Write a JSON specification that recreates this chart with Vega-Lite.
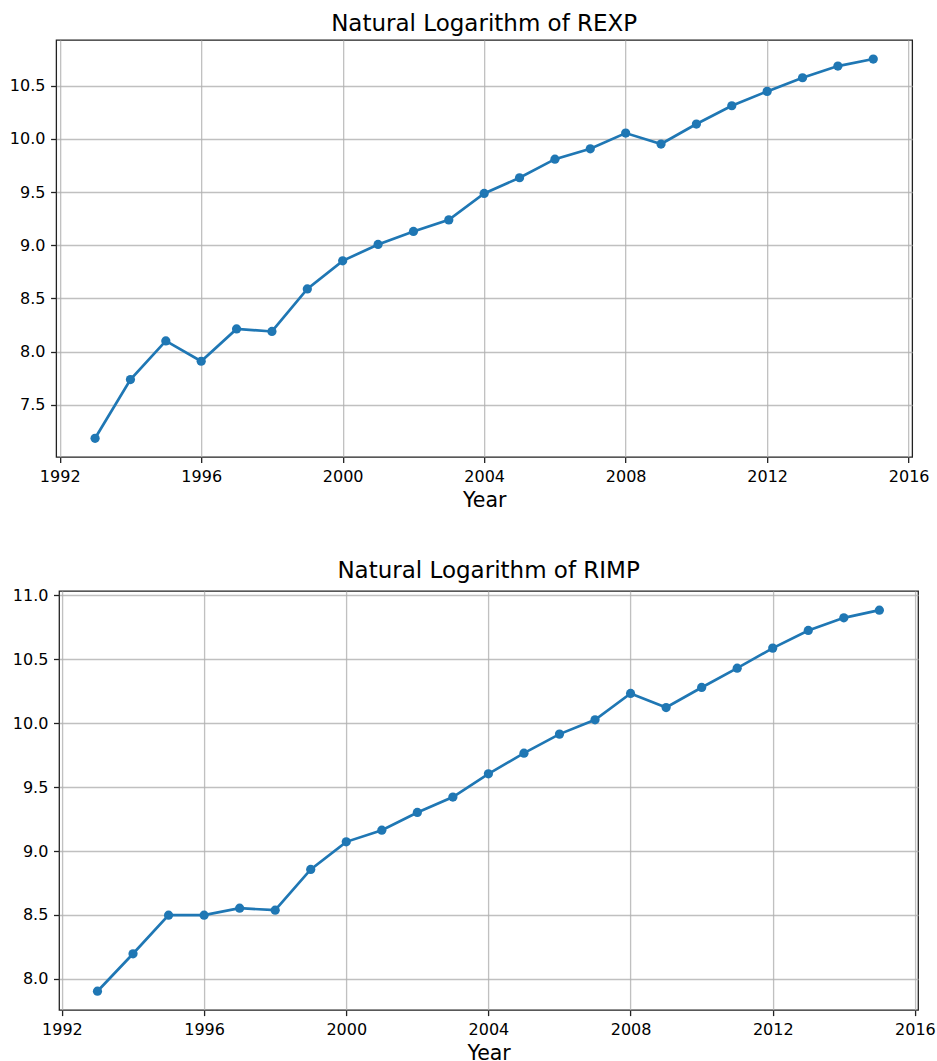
{
  "$schema": "https://vega.github.io/schema/vega-lite/v6.json",
  "padding": {"left": 8, "top": 12, "right": 0, "bottom": 0},
  "background": "white",
  "columns": 1,
  "center": true,
  "spacing": 47,
  "datasets": {
    "rexp": [
      {"year": 1993, "value": 7.186}, {"year": 1994, "value": 7.738}, {"year": 1995, "value": 8.101},
      {"year": 1996, "value": 7.910}, {"year": 1997, "value": 8.214}, {"year": 1998, "value": 8.190},
      {"year": 1999, "value": 8.590}, {"year": 2000, "value": 8.854}, {"year": 2001, "value": 9.008},
      {"year": 2002, "value": 9.130}, {"year": 2003, "value": 9.239}, {"year": 2004, "value": 9.488},
      {"year": 2005, "value": 9.635}, {"year": 2006, "value": 9.810}, {"year": 2007, "value": 9.907},
      {"year": 2008, "value": 10.055}, {"year": 2009, "value": 9.952}, {"year": 2010, "value": 10.140},
      {"year": 2011, "value": 10.312}, {"year": 2012, "value": 10.447}, {"year": 2013, "value": 10.575},
      {"year": 2014, "value": 10.685}, {"year": 2015, "value": 10.751}
    ],
    "rimp": [
      {"year": 1993, "value": 7.903}, {"year": 1994, "value": 8.196}, {"year": 1995, "value": 8.498},
      {"year": 1996, "value": 8.498}, {"year": 1997, "value": 8.553}, {"year": 1998, "value": 8.537},
      {"year": 1999, "value": 8.856}, {"year": 2000, "value": 9.072}, {"year": 2001, "value": 9.163},
      {"year": 2002, "value": 9.302}, {"year": 2003, "value": 9.422}, {"year": 2004, "value": 9.604},
      {"year": 2005, "value": 9.766}, {"year": 2006, "value": 9.915}, {"year": 2007, "value": 10.027},
      {"year": 2008, "value": 10.233}, {"year": 2009, "value": 10.123}, {"year": 2010, "value": 10.280},
      {"year": 2011, "value": 10.431}, {"year": 2012, "value": 10.588}, {"year": 2013, "value": 10.726},
      {"year": 2014, "value": 10.825}, {"year": 2015, "value": 10.885}
    ]
  },
  "config": {
    "font": "DejaVu Sans",
    "view": {"stroke": "#222", "strokeWidth": 1.3},
    "title": {"font": "DejaVu Sans", "fontSize": 23, "fontWeight": "normal", "color": "#000", "frame": "group", "anchor": "middle", "offset": 4},
    "axis": {
      "labelFont": "DejaVu Sans", "labelFontSize": 16, "labelColor": "#000",
      "titleFont": "DejaVu Sans", "titleFontSize": 20.5, "titleFontWeight": "normal", "titleColor": "#000",
      "tickColor": "#222", "tickSize": 5.6, "tickWidth": 1.3, "labelPadding": 5.6,
      "domain": false, "grid": true, "gridColor": "#b0b0b0", "gridWidth": 1.3, "gridOpacity": 0.8
    }
  },
  "concat": [
    {
      "width": 856, "height": 417,
      "title": "Natural Logarithm of REXP",
      "data": {"name": "rexp"},
      "resolve": {"axis": {"y": "independent"}},
      "layer": [
        {
          "mark": {"type": "line", "color": "#1f77b4", "strokeWidth": 2.7},
          "encoding": {
            "x": {"field": "year", "type": "quantitative",
                  "scale": {"domain": [1991.9, 2016.1], "nice": false, "zero": false},
                  "axis": {"title": "Year", "values": [1992, 1996, 2000, 2004, 2008, 2012, 2016], "format": "d", "titlePadding": 6}},
            "y": {"field": "value", "type": "quantitative",
                  "scale": {"domain": [7.01, 10.93], "nice": false, "zero": false},
                  "axis": {"title": null, "values": [7.5, 8.0, 8.5, 9.0, 9.5, 10.0, 10.5], "format": ".1f"}}
          }
        },
        {
          "mark": {"type": "point", "filled": true, "color": "#1f77b4", "size": 85, "opacity": 1},
          "encoding": {
            "x": {"field": "year", "type": "quantitative"},
            "y": {"field": "value", "type": "quantitative",
                  "axis": {"orient": "right", "title": null, "labels": false, "ticks": false, "grid": false, "domain": false, "minExtent": 26, "maxExtent": 26}}
          }
        }
      ]
    },
    {
      "width": 859, "height": 419,
      "title": "Natural Logarithm of RIMP",
      "data": {"name": "rimp"},
      "encoding": {
        "x": {"field": "year", "type": "quantitative",
              "scale": {"domain": [1991.92, 2016.09], "nice": false, "zero": false},
              "axis": {"title": "Year", "values": [1992, 1996, 2000, 2004, 2008, 2012, 2016], "format": "d", "titlePadding": 6}},
        "y": {"field": "value", "type": "quantitative",
              "scale": {"domain": [7.756, 11.035], "nice": false, "zero": false},
              "axis": {"title": null, "values": [8.0, 8.5, 9.0, 9.5, 10.0, 10.5, 11.0], "format": ".1f"}}
      },
      "layer": [
        {"mark": {"type": "line", "color": "#1f77b4", "strokeWidth": 2.7}},
        {"mark": {"type": "point", "filled": true, "color": "#1f77b4", "size": 85, "opacity": 1}}
      ]
    }
  ]
}
